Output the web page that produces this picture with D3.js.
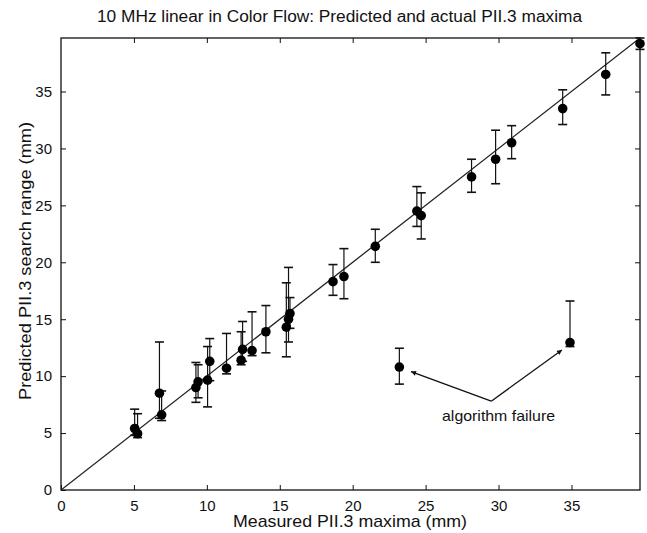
<!DOCTYPE html>
<html>
<head>
<meta charset="utf-8">
<script src="https://cdn.jsdelivr.net/npm/d3@7"></script>
<style>
  html, body { margin: 0; padding: 0; background: #fff; }
  svg { display: block; font-family: "Liberation Sans", Arial, sans-serif; }
</style>
</head>
<body>
<svg id="chart" width="647" height="533"></svg>
<script>
// ---- data ----
const title = "10 MHz linear in Color Flow: Predicted and actual PII.3 maxima";
const xLabel = "Measured PII.3 maxima (mm)";
const yLabel = "Predicted PII.3 search range (mm)";
const xTicks = [0, 5, 10, 15, 20, 25, 30, 35];
const yTicks = [0, 5, 10, 15, 20, 25, 30, 35];

const measured  = [5.05, 5.25, 6.75, 6.9, 9.25, 9.4, 10.05, 10.2, 11.35, 12.35, 12.45, 13.1, 14.05, 15.45, 15.6, 15.7, 18.65, 19.4, 21.55, 24.4, 24.7, 28.15, 29.8, 30.9, 34.4, 37.35, 39.7];
const predicted = [5.4, 4.95, 8.5, 6.6, 9.0, 9.5, 9.65, 11.3, 10.7, 11.4, 12.35, 12.25, 13.9, 14.3, 15.0, 15.5, 18.3, 18.75, 21.4, 24.5, 24.1, 27.5, 29.05, 30.5, 33.5, 36.5, 39.2];
const errLow    = [4.8, 4.6, 6.3, 6.1, 7.7, 8.1, 7.3, 9.6, 10.2, 11.0, 11.3, 11.8, 12.05, 11.7, 13.0, 14.2, 17.1, 16.8, 20.0, 23.15, 22.05, 26.15, 26.9, 29.1, 32.1, 34.7, 38.7];
const errHigh   = [7.1, 6.7, 13.0, 8.7, 11.2, 11.0, 12.6, 13.3, 13.75, 13.9, 14.8, 15.65, 16.2, 18.2, 19.55, 16.9, 19.8, 21.2, 22.9, 26.65, 26.1, 29.05, 31.6, 32.0, 35.15, 38.4, 39.7];

const failMeasured  = [23.2, 34.9];
const failPredicted = [10.8, 12.95];
const failLow       = [9.3, 12.6];
const failHigh      = [12.45, 16.6];

const annotationText = "algorithm failure";
const annotationAnchor = [30.0, 6.05];   // text position (data units)
const arrowFrom = [29.5, 7.8];
const arrowTips = [[24.0, 10.4], [34.35, 12.3]];

const domainMax = 39.7;

// ---- layout ----
const svg = d3.select("#chart");
const margin = { left: 61, right: 7, top: 38, bottom: 43 };
const W = 647, H = 533;
const x = d3.scaleLinear().domain([0, domainMax]).range([margin.left, W - margin.right]);
const y = d3.scaleLinear().domain([0, domainMax]).range([H - margin.bottom, margin.top]);

svg.append("defs").append("clipPath").attr("id", "plotclip")
  .append("rect").attr("x", x(0)).attr("y", y(domainMax))
  .attr("width", x(domainMax) - x(0)).attr("height", y(0) - y(domainMax));

// title
svg.append("text").attr("x", 339.5).attr("y", 22)
  .attr("text-anchor", "middle").attr("font-size", 16)
  .attr("textLength", 485).attr("lengthAdjust", "spacingAndGlyphs").attr("fill", "#111").text(title);

// axes (MATLAB-style inward ticks, full box)
const tickLen = -5;
svg.append("g").attr("transform", `translate(0,${y(0)})`)
  .call(d3.axisBottom(x).tickValues(xTicks).tickSize(tickLen).tickPadding(10).tickFormat(d3.format("d")))
  .call(g => g.select(".domain").remove());
svg.append("g").attr("transform", `translate(0,${y(domainMax)})`)
  .call(d3.axisTop(x).tickValues(xTicks.slice(1)).tickSize(tickLen).tickFormat(""))
  .call(g => g.select(".domain").remove());
svg.append("g").attr("transform", `translate(${x(0)},0)`)
  .call(d3.axisLeft(y).tickValues(yTicks).tickSize(tickLen).tickPadding(9).tickFormat(d3.format("d")))
  .call(g => g.select(".domain").remove());
svg.append("g").attr("transform", `translate(${x(domainMax)},0)`)
  .call(d3.axisRight(y).tickValues(yTicks.slice(1)).tickSize(tickLen).tickFormat(""))
  .call(g => g.select(".domain").remove());

svg.selectAll(".tick text").attr("font-size", 15).attr("fill", "#111")
  .attr("font-family", "Liberation Sans, Arial, sans-serif");
svg.selectAll(".tick line").attr("stroke", "#111");

svg.append("rect").attr("x", x(0)).attr("y", y(domainMax))
  .attr("width", x(domainMax) - x(0)).attr("height", y(0) - y(domainMax))
  .attr("fill", "none").attr("stroke", "#111").attr("stroke-width", 1.3);

// axis labels
svg.append("text").attr("x", 350).attr("y", 527)
  .attr("text-anchor", "middle").attr("font-size", 17)
  .attr("textLength", 234).attr("lengthAdjust", "spacingAndGlyphs").attr("fill", "#111").text(xLabel);
svg.append("text").attr("transform", `translate(31,261) rotate(-90)`)
  .attr("text-anchor", "middle").attr("font-size", 17)
  .attr("textLength", 278).attr("lengthAdjust", "spacingAndGlyphs").attr("fill", "#111").text(yLabel);

// diagonal identity line
svg.append("line").attr("clip-path", "url(#plotclip)")
  .attr("x1", x(0)).attr("y1", y(0)).attr("x2", x(domainMax)).attr("y2", y(domainMax))
  .attr("stroke", "#222").attr("stroke-width", 1.3);

// error bars + points
function drawSeries(xs, ys, lo, hi) {
  const data = xs.map((v, i) => ({ x: v, y: ys[i], lo: lo[i], hi: hi[i] }));
  const g = svg.append("g").attr("stroke", "#111").attr("stroke-width", 1.2);
  const capW = 4.5;
  g.selectAll(".eb").data(data).join("line")
    .attr("x1", d => x(d.x)).attr("x2", d => x(d.x))
    .attr("y1", d => y(d.lo)).attr("y2", d => y(d.hi));
  g.selectAll(".capHi").data(data).join("line")
    .attr("x1", d => x(d.x) - capW).attr("x2", d => x(d.x) + capW)
    .attr("y1", d => y(d.hi)).attr("y2", d => y(d.hi)).attr("stroke-width", 1.6);
  g.selectAll(".capLo").data(data).join("line")
    .attr("x1", d => x(d.x) - capW).attr("x2", d => x(d.x) + capW)
    .attr("y1", d => y(d.lo)).attr("y2", d => y(d.lo)).attr("stroke-width", 1.6);
  svg.append("g").selectAll("circle").data(data).join("circle")
    .attr("cx", d => x(d.x)).attr("cy", d => y(d.y)).attr("r", 4.8).attr("fill", "#000");
}
drawSeries(measured, predicted, errLow, errHigh);
drawSeries(failMeasured, failPredicted, failLow, failHigh);

// annotation
const defs = svg.select("defs");
defs.append("marker").attr("id", "arrow").attr("viewBox", "0 0 10 10")
  .attr("refX", 10).attr("refY", 5).attr("markerWidth", 10).attr("markerHeight", 5)
  .attr("markerUnits", "userSpaceOnUse").attr("orient", "auto")
  .append("path").attr("d", "M0,0 L10,5 L0,10 z").attr("fill", "#111");
svg.append("g").selectAll("line").data(arrowTips).join("line")
  .attr("x1", x(arrowFrom[0])).attr("y1", y(arrowFrom[1]))
  .attr("x2", d => x(d[0])).attr("y2", d => y(d[1]))
  .attr("stroke", "#111").attr("stroke-width", 1.3).attr("marker-end", "url(#arrow)");
svg.append("text").attr("x", x(annotationAnchor[0])).attr("y", y(annotationAnchor[1]))
  .attr("text-anchor", "middle").attr("font-size", 15)
  .attr("textLength", 113).attr("lengthAdjust", "spacingAndGlyphs").attr("fill", "#111").text(annotationText);
</script>
</body>
</html>
